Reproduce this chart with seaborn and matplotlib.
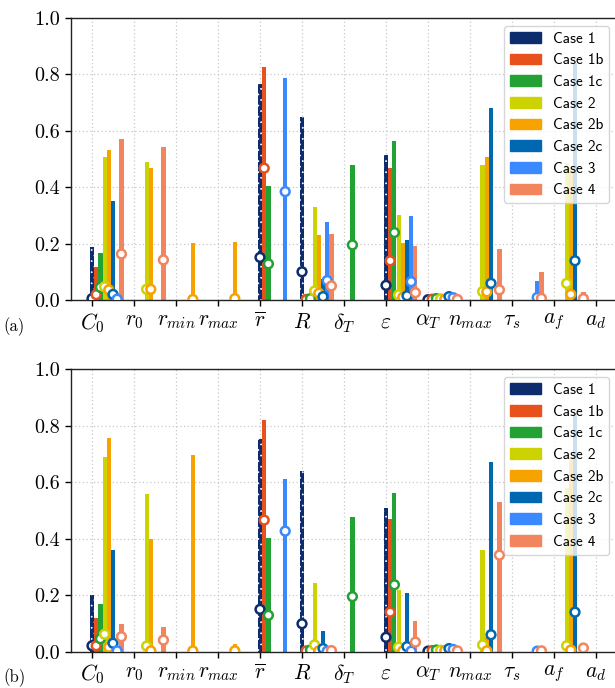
import numpy as np
import pandas as pd
import matplotlib
matplotlib.use("Agg")
import matplotlib.pyplot as plt
import seaborn as sns
from matplotlib.patches import Patch

N = np.nan

params = [r"$C_0$", r"$r_0$", r"$r_{min}$", r"$r_{max}$", r"$\overline{r}$", r"$R$",
          r"$\delta_T$", r"$\varepsilon$", r"$\alpha_T$", r"$n_{max}$", r"$\tau_s$",
          r"$a_f$", r"$a_d$"]
cases = ["Case 1", "Case 1b", "Case 1c", "Case 2", "Case 2b", "Case 2c", "Case 3", "Case 4"]
colors = ["#0c2c6e", "#e8501c", "#22a232", "#cdd300", "#f6a300", "#0068b0", "#3b89ff", "#f2855e"]

#            C0     r0     rmin   rmax   rbar   R      dT     eps    aT     nmax   tau    af     ad
a_total = [
    [0.190, N,     N,     N,     0.767, 0.651, N,     0.515, 0.006, N,     N,     N,     N],
    [0.119, N,     N,     N,     0.825, 0.008, N,     0.470, 0.008, N,     N,     N,     N],
    [0.169, N,     N,     N,     0.405, 0.012, 0.480, 0.565, 0.010, N,     N,     N,     N],
    [0.509, 0.491, N,     N,     N,     0.332, N,     0.302, 0.008, 0.479, N,     0.486, N],
    [0.533, 0.470, 0.202, 0.206, N,     0.232, N,     0.202, 0.008, 0.506, N,     0.470, N],
    [0.353, N,     N,     N,     N,     0.075, N,     0.213, 0.016, 0.681, N,     0.840, N],
    [0.006, N,     N,     N,     0.787, 0.278, N,     0.299, 0.012, N,     0.068, N,     N],
    [0.573, 0.544, N,     N,     N,     0.236, N,     0.193, 0.006, 0.182, 0.100, 0.030, N],
]
a_first = [
    [0.006, N,     N,     N,     0.152, 0.101, N,     0.053, 0.002, N,     N,     N,     N],
    [0.020, N,     N,     N,     0.468, 0.003, N,     0.140, 0.004, N,     N,     N,     N],
    [0.046, N,     N,     N,     0.129, 0.006, 0.196, 0.240, 0.006, N,     N,     N,     N],
    [0.048, 0.039, N,     N,     N,     0.033, N,     0.019, 0.005, 0.031, N,     0.060, N],
    [0.037, 0.039, 0.003, 0.006, N,     0.025, N,     0.011, 0.004, 0.030, N,     0.021, N],
    [0.021, N,     N,     N,     N,     0.013, N,     0.016, 0.013, 0.060, N,     0.140, N],
    [0.004, N,     N,     N,     0.385, 0.070, N,     0.066, 0.009, N,     0.010, N,     N],
    [0.164, 0.143, N,     N,     N,     0.051, N,     0.027, 0.003, 0.037, 0.007, 0.006, N],
]
b_total = [
    [0.200, N,     N,     N,     0.753, 0.640, N,     0.508, 0.006, N,     N,     N,     N],
    [0.120, N,     N,     N,     0.820, 0.006, N,     0.469, 0.008, N,     N,     N,     N],
    [0.170, N,     N,     N,     0.404, 0.010, 0.478, 0.562, 0.010, N,     N,     N,     N],
    [0.688, 0.560, N,     N,     N,     0.242, N,     0.220, 0.008, 0.361, N,     0.578, N],
    [0.758, 0.398, 0.697, 0.026, N,     0.006, N,     0.006, 0.008, 0.051, N,     0.690, N],
    [0.359, N,     N,     N,     N,     0.073, N,     0.208, 0.016, 0.672, N,     0.844, N],
    [0.005, N,     N,     N,     0.612, 0.004, N,     0.004, 0.012, N,     0.004, N,     N],
    [0.098, 0.086, N,     N,     N,     0.006, N,     0.109, 0.006, 0.530, 0.006, 0.020, N],
]
b_first = [
    [0.021, N,     N,     N,     0.150, 0.099, N,     0.051, 0.002, N,     N,     N,     N],
    [0.021, N,     N,     N,     0.466, 0.003, N,     0.140, 0.004, N,     N,     N,     N],
    [0.046, N,     N,     N,     0.129, 0.006, 0.195, 0.237, 0.006, N,     N,     N,     N],
    [0.062, 0.020, N,     N,     N,     0.024, N,     0.016, 0.005, 0.024, N,     0.021, N],
    [0.016, 0.003, 0.003, 0.003, N,     0.003, N,     0.003, 0.004, 0.003, N,     0.006, N],
    [0.030, N,     N,     N,     N,     0.011, N,     0.018, 0.011, 0.060, N,     0.140, N],
    [0.003, N,     N,     N,     0.427, 0.002, N,     0.002, 0.008, N,     0.002, N,     N],
    [0.053, 0.041, N,     N,     N,     0.004, N,     0.034, 0.003, 0.342, 0.003, 0.013, N],
]
yticks = [0.0, 0.2, 0.4, 0.6, 0.8, 1.0]

plt.rcParams.update({
    "mathtext.fontset": "cm",
    "hatch.color": "white",
    "hatch.linewidth": 0.5,
    "axes.linewidth": 1.0,
})

BAR_W = 0.8
n_cases = len(cases)
step = BAR_W / n_cases


def make_df(total, first):
    rows = []
    for ci, case in enumerate(cases):
        for pi, p in enumerate(params):
            rows.append({"param": p, "case": case, "total": total[ci][pi],
                         "first": first[ci][pi],
                         "xpos": pi + (ci - (n_cases - 1) / 2) * step})
    return pd.DataFrame(rows)


def draw(ax, total, first):
    df = make_df(total, first)
    sns.barplot(data=df, x="param", y="total", hue="case", order=params,
                hue_order=cases, palette=colors, width=BAR_W, gap=0,
                errorbar=None, saturation=1, linewidth=0, legend=False, ax=ax)
    # dotted hatch on Case 1 bars (first hue level container)
    for p in ax.containers[0].patches:
        p.set_edgecolor("white")
        p.set_linewidth(0)
        p.set_hatch("...")
    dm = df.dropna(subset=["first"])
    sns.scatterplot(data=dm, x="xpos", y="first", hue="case", hue_order=cases,
                    palette=colors, s=40, linewidth=1.8, marker="o",
                    legend=False, ax=ax, zorder=3)
    coll = ax.collections[-1]
    fc = coll.get_facecolors()
    coll.set_edgecolors(fc)
    coll.set_facecolors("white")

    off = -(n_cases - 1) / 2 * step
    ticks = [i + off for i in range(len(params))]
    ax.set_xticks(ticks)
    ax.set_xticklabels(params, fontsize=15.5)
    ax.set_xlim(ticks[0] - 0.5, ticks[-1] + 0.5)
    ax.set_ylim(0, 1.0)
    ax.set_yticks(yticks)
    ax.set_yticklabels([f"{v:.1f}" for v in yticks], fontfamily="cmr10", fontsize=14.5)
    ax.set_xlabel("")
    ax.set_ylabel("")
    ax.set_axisbelow(True)
    ax.grid(True, linestyle=(0, (1, 2)), color="#c8c8c8", linewidth=0.9)
    ax.tick_params(direction="out", length=4, width=1, pad=4)
    for s in ax.spines.values():
        s.set_color("#222222")
    handles = [Patch(facecolor=c, edgecolor=c, label=l) for c, l in zip(colors, cases)]
    ax.legend(handles=handles, loc="upper right", prop={"family": "cmss10", "size": 11},
              framealpha=0.8, borderaxespad=0.5, handlelength=2.0, labelspacing=0.5)


fig = plt.figure(figsize=(6.15, 6.88), dpi=100)
W, H = 615.0, 688.0
ax_a = fig.add_axes([71 / W, 1 - 300.3 / H, 546 / W, 282.3 / H])
ax_b = fig.add_axes([71 / W, 1 - 651.7 / H, 546 / W, 282.4 / H])
draw(ax_a, a_total, a_first)
draw(ax_b, b_total, b_first)
fig.text(3 / W, 1 - 327 / H, "(a)", fontfamily="cmr10", fontsize=12, va="center", ha="left")
fig.text(3 / W, 1 - 678 / H, "(b)", fontfamily="cmr10", fontsize=12, va="center", ha="left")
fig.savefig("out.png", dpi=100)
